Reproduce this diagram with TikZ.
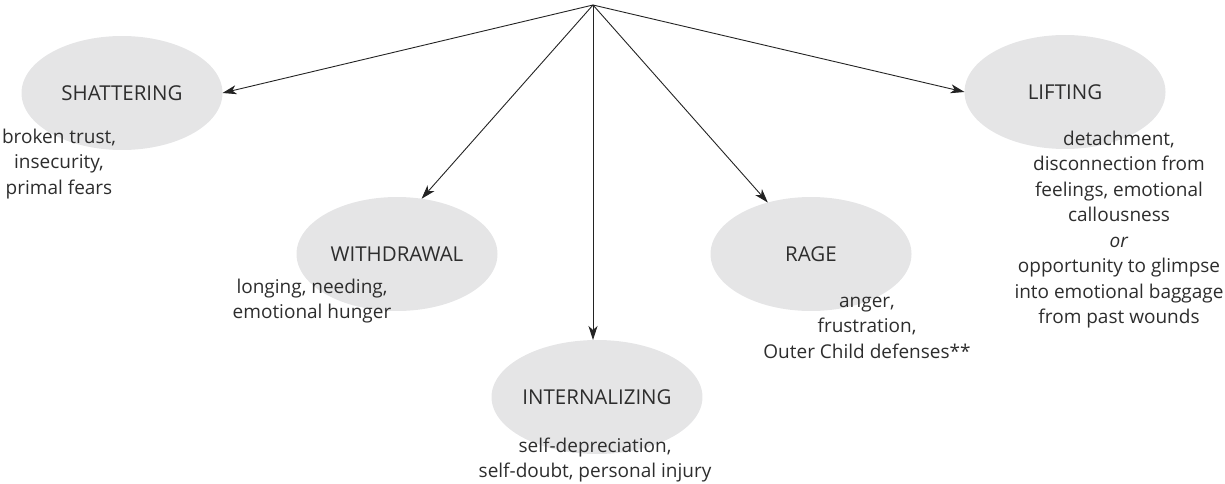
\documentclass[tikz,border=0pt]{standalone}
\usepackage{fontspec}
\setmainfont{Open Sans}
\usetikzlibrary{shapes.geometric,arrows.meta}
\definecolor{blobgray}{RGB}{229,229,230}
\definecolor{inkgray}{RGB}{45,45,45}
\definecolor{linegray}{RGB}{35,35,35}
\tikzset{
  blob/.style={ellipse, fill=blobgray, minimum width=201pt, minimum height=114pt,
    inner sep=0pt, outer sep=0pt, text=inkgray,
    font=\fontsize{20.5}{24}\selectfont},
  % anchor=base sits on the baseline of the last line
  note/.style={anchor=base, align=center, inner sep=0pt, text=inkgray,
    font=\fontsize{19}{25.5}\selectfont},
  feeler/.style={draw=linegray, line width=0.9pt,
    -{Stealth[length=14pt,width=9pt,inset=4pt]}}
}
\begin{document}
\begin{tikzpicture}[x=1pt,y=-1pt]
  \useasboundingbox (0,0) rectangle (1225,484);
  \coordinate (apex) at (593,5);

  % the five reactions
  \node[blob] (shat) at (122,93) {SHATTERING};
  \node[blob] (withd) at (397,254) {WITHDRAWAL};
  \node[blob] (intern) at (597,397) {INTERNALIZING};
  \node[blob] (rage) at (811,254) {RAGE};
  \node[blob] (lift) at (1065,92) {LIFTING};

  % what each one brings
  \node[note] (shatnote) at (59,194) {broken trust,\\insecurity,\\primal fears};
  \node[note] (withdnote) at (312,318.5) {longing, needing,\\emotional hunger};
  \node[note] (internnote) at (595,477.5) {self-depreciation,\\self-doubt, personal injury};
  \node[note] (ragenote) at (867,358) {anger,\\frustration,\\Outer Child defenses**};
  \node[note] (liftnote) at (1119,323.5) {detachment,\\disconnection from\\feelings, emotional\\callousness\\\textit{or}\\opportunity to glimpse\\into emotional baggage\\from past wounds};

  % arrows fanning out from the top
  \draw[feeler] (apex) -- (shat.east);
  \draw[feeler] (apex) -- (withd.66);
  \draw[feeler] (apex) -- (apex |- intern.north);
  \draw[feeler] (apex) -- (rage.130);
  \draw[feeler] (apex) -- (lift.west);
\end{tikzpicture}
\end{document}
